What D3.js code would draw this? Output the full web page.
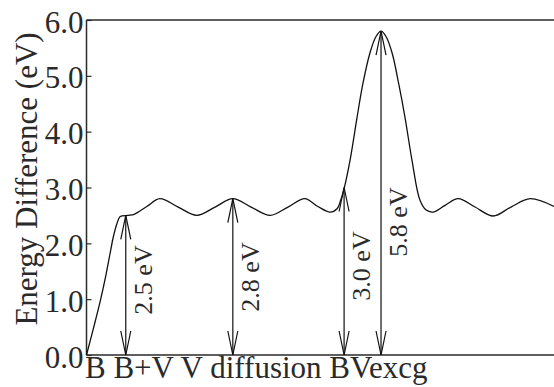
<!DOCTYPE html>
<html><head><meta charset="utf-8">
<script src="https://cdn.jsdelivr.net/npm/d3@7/dist/d3.min.js"></script>
<style>
html,body{margin:0;padding:0;background:#fff;}
svg{display:block;font-family:"Liberation Serif","Times New Roman",serif;}
</style></head>
<body><svg id="c" width="554" height="387"></svg>
<script>
// reaction coordinate (0-100) and energy difference (eV)
const pathX = [0,1.4,2.9,4.2,5.0,5.7,6.5,7.2,8.9,10.2,12.9,15.7,19.6,23.6,27.5,31.3,35.2,39.3,43.1,46.7,49.5,52.1,53.6,54.4,55.1,56.4,57.9,59.1,60.6,61.9,63.0,64.1,65.4,66.8,68.1,69.6,71.3,72.6,74.1,76.7,79.5,83.1,87.0,90.8,94.9,100];
const pathE = [0,0.45,0.95,1.45,1.8,2.1,2.35,2.48,2.5,2.52,2.66,2.8,2.65,2.5,2.65,2.8,2.65,2.5,2.65,2.8,2.66,2.56,2.62,2.78,2.98,3.5,4.27,4.85,5.4,5.7,5.8,5.7,5.4,4.85,4.27,3.5,2.78,2.6,2.56,2.68,2.8,2.65,2.49,2.65,2.8,2.66];
const arrowX = [8.4,31.3,55.1,63.0];
const arrowE = [2.5,2.8,3.0,5.8];
const arrowLabels = ["2.5 eV","2.8 eV","3.0 eV","5.8 eV"];
const categories = ["B","B+V","V diffusion","BVexcg"];
const yTicks = [0,1,2,3,4,5,6];
const yTickLabels = ["0.0","1.0","2.0","3.0","4.0","5.0","6.0"];
const yTitle = "Energy Difference (eV)";

const svg = d3.select("#c");
const m = {l:86.5, r:554, t:20, b:355};
const x = d3.scaleLinear().domain([0,100]).range([m.l, m.r]);
const y = d3.scaleLinear().domain([0,6]).range([m.b, m.t]);
const ink = "#2a2a2a";

// frame: left, top, bottom
svg.append("line").attr("x1",m.l).attr("x2",m.l).attr("y1",m.t).attr("y2",m.b).attr("stroke",ink).attr("stroke-width",1.5);
svg.append("line").attr("x1",m.l).attr("x2",m.r).attr("y1",m.t).attr("y2",m.t).attr("stroke",ink).attr("stroke-width",1.5);
svg.append("line").attr("x1",m.l).attr("x2",m.r).attr("y1",m.b).attr("y2",m.b).attr("stroke",ink).attr("stroke-width",1.5);

// y axis ticks (inward)
const yAxis = d3.axisRight(y).tickValues(yTicks).tickSize(5).tickFormat(()=> "");
const ga = svg.append("g").attr("transform",`translate(${m.l},0)`).call(yAxis);
ga.select(".domain").remove();
ga.selectAll(".tick line").attr("stroke",ink).attr("stroke-width",1.2);
svg.append("g").selectAll("text").data(yTicks).join("text")
  .attr("x", m.l-3).attr("y", d=>y(d)+2)
  .attr("text-anchor","end").attr("dominant-baseline","central")
  .attr("font-size",31).attr("fill",ink)
  .text((d,i)=>yTickLabels[i]);

// y title
svg.append("text")
  .attr("transform",`translate(37,${(30+328)/2}) rotate(-90)`)
  .attr("text-anchor","middle").attr("font-size",31).attr("fill",ink)
  .text(yTitle);

// x category labels
const xt = svg.append("text").attr("x",85).attr("y",378).attr("font-size",31).attr("fill",ink);
xt.text(categories.join(" "));

// curve
const line = d3.line().x((d,i)=>x(pathX[i])).y((d,i)=>y(pathE[i])).curve(d3.curveCatmullRom.alpha(0.5));
svg.append("path").datum(pathE).attr("d",line).attr("fill","none").attr("stroke","#111").attr("stroke-width",1.3);

// double arrows
const hl = 24, hw = 5;
arrowX.forEach((ax,i)=>{
  const px = x(ax), top = y(arrowE[i]), bot = y(0);
  const g = svg.append("g").attr("stroke","#111").attr("stroke-width",1.2).attr("fill","none");
  g.append("line").attr("x1",px).attr("x2",px).attr("y1",top).attr("y2",bot);
  g.append("path").attr("d",`M${px-hw},${top+hl}L${px},${top}L${px+hw},${top+hl}`);
  g.append("path").attr("d",`M${px-hw},${bot-hl}L${px},${bot}L${px+hw},${bot-hl}`);
});
// arrow labels
const labelCY = [280,277,266,222];
arrowX.forEach((ax,i)=>{
  svg.append("text")
    .attr("transform",`translate(${x(ax)+26},${labelCY[i]}) rotate(-90)`)
    .attr("text-anchor","middle").attr("font-size",26).attr("fill",ink)
    .text(arrowLabels[i]);
});
</script></body></html>
